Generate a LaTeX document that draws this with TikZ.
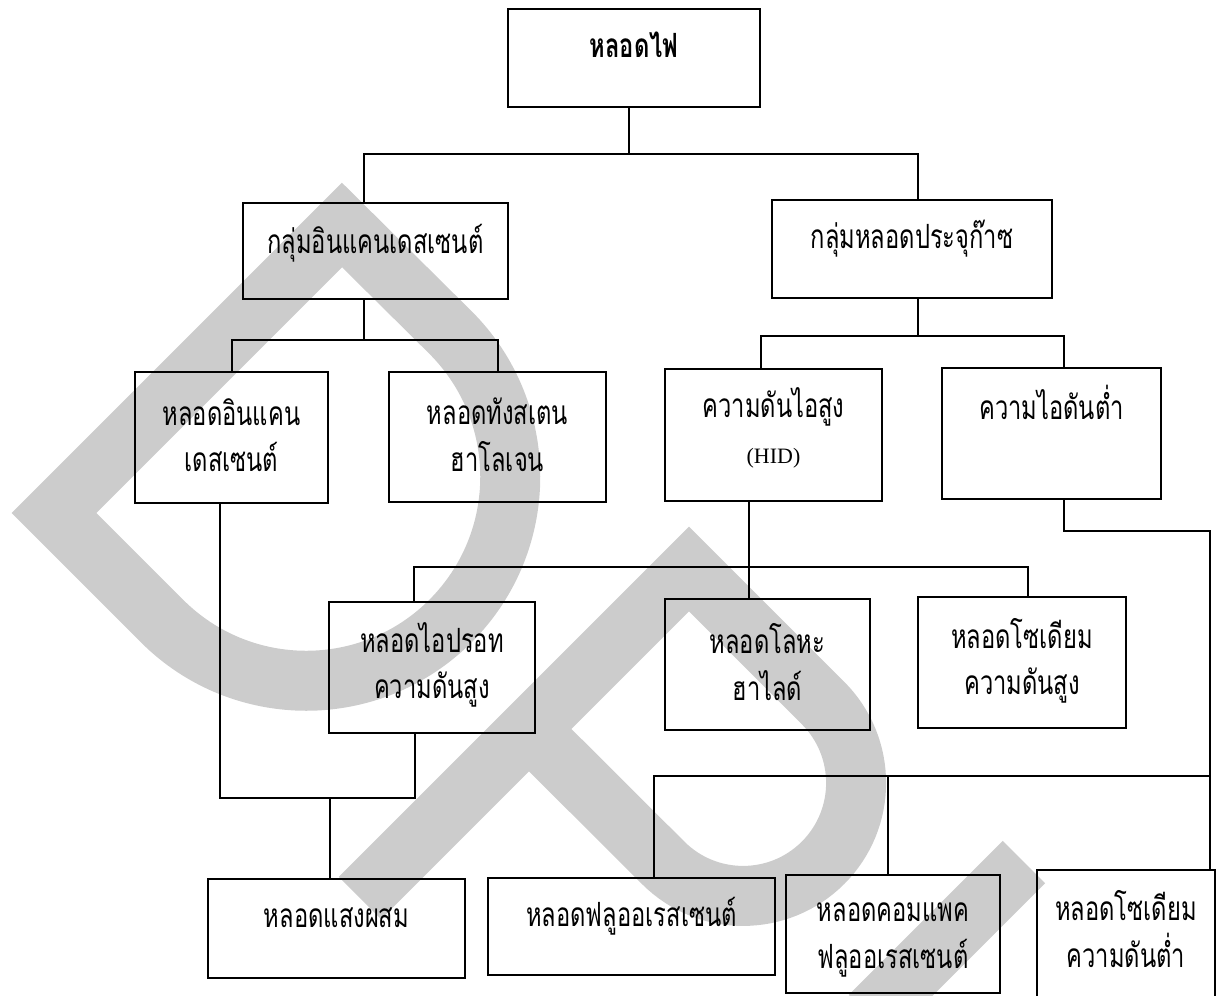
\documentclass[tikz,border=0pt]{standalone}
\usepackage{fontspec}
\setmainfont{Liberation Serif}
\newfontfamily\thaifont[Script=Thai, FakeStretch=0.71]{Loma}
\usetikzlibrary{calc}

\def\pxu{0.02cm}
\tikzset{
  box/.style 2 args={draw, line width=0.04cm, inner sep=0pt, minimum width=#1*\pxu, minimum height=#2*\pxu},
  txt/.style={font=\thaifont\fontsize{19}{26.5}\selectfont, align=center, inner sep=0pt},
  txtb/.style={txt, font=\thaifont\bfseries\fontsize{19}{26.5}\selectfont},
  link/.style={line width=0.04cm},
  wmark/.style={draw=black!20, line width=1.2cm, line join=miter}
}

\begin{document}
\begin{tikzpicture}[x=\pxu, y=-\pxu]
\useasboundingbox (0,0) rectangle (1227,995);

% watermark in the back
\begin{scope}
\clip (0,0) rectangle (1227,995);
\draw[wmark] (342,225) -- (54,513) -- (162,621) arc[start angle=135, end angle=-45, radius=204] -- cycle;
\draw[wmark] (360,898) -- (689,569) -- (823,703) arc[start angle=-45, end angle=135, radius=113] -- (529,729);
\draw[wmark] (1024,862) -- (870,1016);
\end{scope}

% boxes
\node[box={252}{98}, label={[txtb, yshift=0.26cm]center:หลอดไฟ}] (top) at (634,58) {};
\node[box={265}{96}, label={[txt, yshift=0.16cm]center:กลุ่มอินแคนเดสเซนต์}] (gInc) at (375.5,251) {};
\node[box={280}{98}, label={[txt, yshift=0.2cm]center:กลุ่มหลอดประจุก๊าซ}] (gGas) at (912,249) {};

\node[box={193}{131}, label={[txt, yshift=0.05cm]center:หลอดอินแคน\\เดสเซนต์}] (inc) at (231.5,437.5) {};
\node[box={217}{130}, label={[txt, yshift=0.05cm]center:หลอดทังสเตน\\ฮาโลเจน}] (tung) at (497.5,437) {};
\node[box={217}{132}, label={[txt, yshift=0.14cm]center:ความดันไอสูง\\{\rmfamily\fontsize{12.5}{12.5}\selectfont (HID)}}] (hid) at (773.5,435) {};
\node[box={219}{131}, label={[txt, yshift=0.62cm]center:ความไอดันต่ำ}] (low) at (1051.5,433.5) {};

\node[box={206}{131}, label={[txt, yshift=0.05cm]center:หลอดไอปรอท\\ความดันสูง}] (mer) at (432,667.5) {};
\node[box={205}{131}, label={[txt, yshift=0.05cm]center:หลอดโลหะ\\ฮาไลด์}] (hal) at (767.5,664.5) {};
\node[box={208}{131}, label={[txt, yshift=0.03cm]center:หลอดโซเดียม\\ความดันสูง}] (sodH) at (1022,662.5) {};

\node[box={257}{99}, label={[txt, yshift=0.21cm]center:หลอดแสงผสม}] (mix) at (336.5,928.5) {};
\node[box={287}{97}, label={[txt, yshift=0.21cm]center:หลอดฟลูออเรสเซนต์}] (fl) at (631.5,926.5) {};
\node[box={214}{118}, label={[txt, yshift=-0.12cm]center:หลอดคอมแพค\\ฟลูออเรสเซนต์}] (cfl) at (893,934) {};
\node[box={178}{130}, label={[txt, yshift=0.12cm]center:หลอดโซเดียม\\ความดันต่ำ}] (sodL) at (1126,935) {};

% junctions
\coordinate (b1l) at (364,154);
\coordinate (b1m) at (629,154);
\coordinate (b1r) at (918,154);
\coordinate (b2l) at (232,340);
\coordinate (b2m) at (364,340);
\coordinate (b2r) at (498,340);
\coordinate (b3l) at (761,336);
\coordinate (b3m) at (918,336);
\coordinate (b3r) at (1064,336);
\coordinate (b4l) at (414,567);
\coordinate (b4m) at (749,567);
\coordinate (b4r) at (1028,567);
\coordinate (b5l) at (220,798);
\coordinate (b5m) at (330,798);
\coordinate (b5r) at (415,798);
\coordinate (b6a) at (1064,531);
\coordinate (b6b) at (1210,531);
\coordinate (b6l) at (654,776);
\coordinate (b6m) at (888,776);
\coordinate (b6r) at (1210,776);

% connectors
\draw[link] (top.south -| b1m) -- (b1m);
\draw[link] (gInc.north -| b1l) |- (b1r) -- (gGas.north -| b1r);
\draw[link] (gInc.south -| b2m) -- (b2m);
\draw[link] (inc.north -| b2l) |- (b2r) -- (tung.north -| b2r);
\draw[link] (gGas.south -| b3m) -- (b3m);
\draw[link] (hid.north -| b3l) |- (b3r) -- (low.north -| b3r);
\draw[link] (hid.south -| b4m) -- (hal.north -| b4m);
\draw[link] (mer.north -| b4l) |- (b4r) -- (sodH.north -| b4r);
\draw[link] (inc.south -| b5l) |- (b5r) -- (mer.south -| b5r);
\draw[link] (b5m) -- (mix.north -| b5m);
\draw[link] (low.south -| b6a) -- (b6a) -- (b6b) -- (sodL.north -| b6b);
\draw[link] (fl.north -| b6l) |- (b6r);
\draw[link] (b6m) -- (cfl.north -| b6m);

\end{tikzpicture}
\end{document}
